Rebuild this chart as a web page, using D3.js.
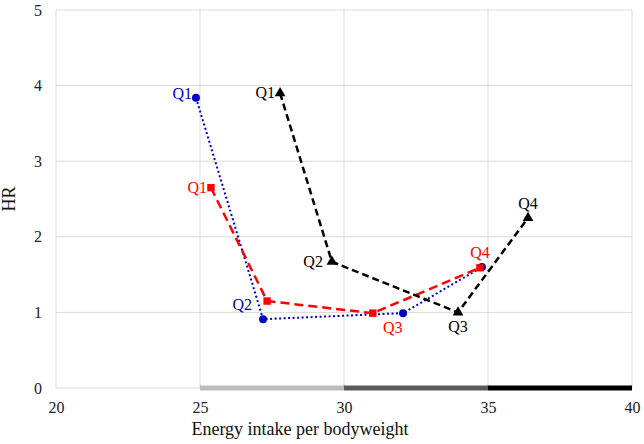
<!DOCTYPE html>
<html><head><meta charset="utf-8">
<script src="https://cdn.jsdelivr.net/npm/d3@7"></script>
<style>body{margin:0;background:#fff}text{font-family:"Liberation Serif","Times New Roman",serif}</style>
</head><body><svg id="c" width="644" height="444"></svg>
<script>
const quartiles = ["Q1","Q2","Q3","Q4"];
const blueX = [24.86, 27.19, 32.05, 34.79];
const blueY = [3.84, 0.91, 0.99, 1.60];
const redX = [25.38, 27.33, 31.0, 34.72];
const redY = [2.65, 1.15, 0.99, 1.59];
const blackX = [27.78, 29.58, 33.96, 36.39];
const blackY = [3.90, 1.67, 1.0, 2.25];
const xTicks = [20,25,30,35,40];
const yTicks = [0,1,2,3,4,5];
const bandStarts = [25,30,35];
const bandEnds = [30,35,40];
const bandColors = ["#bdbdbd","#5a5a5a","#000000"];

const svg = d3.select("#c");
const x = d3.scaleLinear().domain([20,40]).range([56,632]);
const y = d3.scaleLinear().domain([0,5]).range([388,10]);

// grid
svg.append("g").selectAll("line").data(yTicks.slice(1)).join("line")
  .attr("x1",x(20)).attr("x2",x(40)).attr("y1",d=>y(d)).attr("y2",d=>y(d))
  .attr("stroke","#d9d9d9").attr("stroke-width",1);
svg.append("g").selectAll("line").data(xTicks).join("line")
  .attr("x1",d=>x(d)).attr("x2",d=>x(d)).attr("y1",y(0)).attr("y2",y(5))
  .attr("stroke","#d9d9d9").attr("stroke-width",1);
svg.append("line").attr("x1",x(20)).attr("x2",x(40)).attr("y1",y(0)).attr("y2",y(0)).attr("stroke","#d9d9d9");

// axes
const xa = svg.append("g").attr("transform",`translate(0,${y(0)})`)
  .call(d3.axisBottom(x).tickValues(xTicks).tickFormat(d3.format("d")).tickSize(0).tickPadding(14));
xa.select(".domain").remove();
xa.selectAll("text").attr("font-size",16).attr("fill","#222");
const ya = svg.append("g").attr("transform",`translate(${x(20)},0)`)
  .call(d3.axisLeft(y).tickValues(yTicks).tickFormat(d3.format("d")).tickSize(0).tickPadding(14));
ya.select(".domain").remove();
ya.selectAll("text").attr("font-size",16).attr("fill","#222");

// bands
svg.append("g").selectAll("line").data(bandStarts).join("line")
  .attr("x1",d=>x(d)).attr("x2",(d,i)=>x(bandEnds[i])).attr("y1",y(0)).attr("y2",y(0))
  .attr("stroke",(d,i)=>bandColors[i]).attr("stroke-width",5);

svg.append("text").attr("x",300).attr("y",435).attr("text-anchor","middle")
  .attr("font-size",18).attr("fill","#111").text("Energy intake per bodyweight");
svg.append("text").attr("transform",`translate(15,${y(2.5)}) rotate(-90)`).attr("text-anchor","middle")
  .attr("font-size",18).attr("fill","#111").text("HR");

const line = d3.line().x(d=>x(d[0])).y(d=>y(d[1]));
function series(xs, ys, color, dash, width, shape, size){
  const pts = xs.map((v,i)=>[v, ys[i]]);
  svg.append("path").datum(pts).attr("d",line).attr("fill","none")
    .attr("stroke",color).attr("stroke-width",width).attr("stroke-dasharray",dash);
  svg.append("g").selectAll("path").data(pts).join("path")
    .attr("transform",d=>`translate(${x(d[0])},${y(d[1])})`)
    .attr("d",d3.symbol().type(shape).size(size)).attr("fill",color);
  return pts;
}
const bluePts = series(blueX, blueY, "#0000c8", "2,2.5", 2, d3.symbolCircle, 50);
const redPts = series(redX, redY, "#ff0000", "9,5", 2.5, d3.symbolSquare, 55);
const blackPts = series(blackX, blackY, "#000", "7,4", 2.5, d3.symbolTriangle, 50);

function labels(pts, color, offs){
  svg.append("g").selectAll("text").data(pts).join("text")
    .attr("x",(d,i)=>x(d[0])+offs[i][0]).attr("y",(d,i)=>y(d[1])+offs[i][1])
    .attr("text-anchor",(d,i)=>offs[i][2]).attr("font-size",16).attr("fill",color)
    .text((d,i)=>offs[i][3] ? quartiles[i] : "");
}
labels(bluePts, "#0000c8", [[-4,1,"end",1],[-11,-9,"end",1],[0,0,"middle",0],[0,0,"middle",0]]);
labels(redPts, "#ff0000", [[-4,5,"end",1],[0,0,"middle",0],[20,20,"middle",1],[0,-10,"middle",1]]);
labels(blackPts, "#000", [[-5,5,"end",1],[-9,5,"end",1],[0,20,"middle",1],[0,-9,"middle",1]]);
</script></body></html>
